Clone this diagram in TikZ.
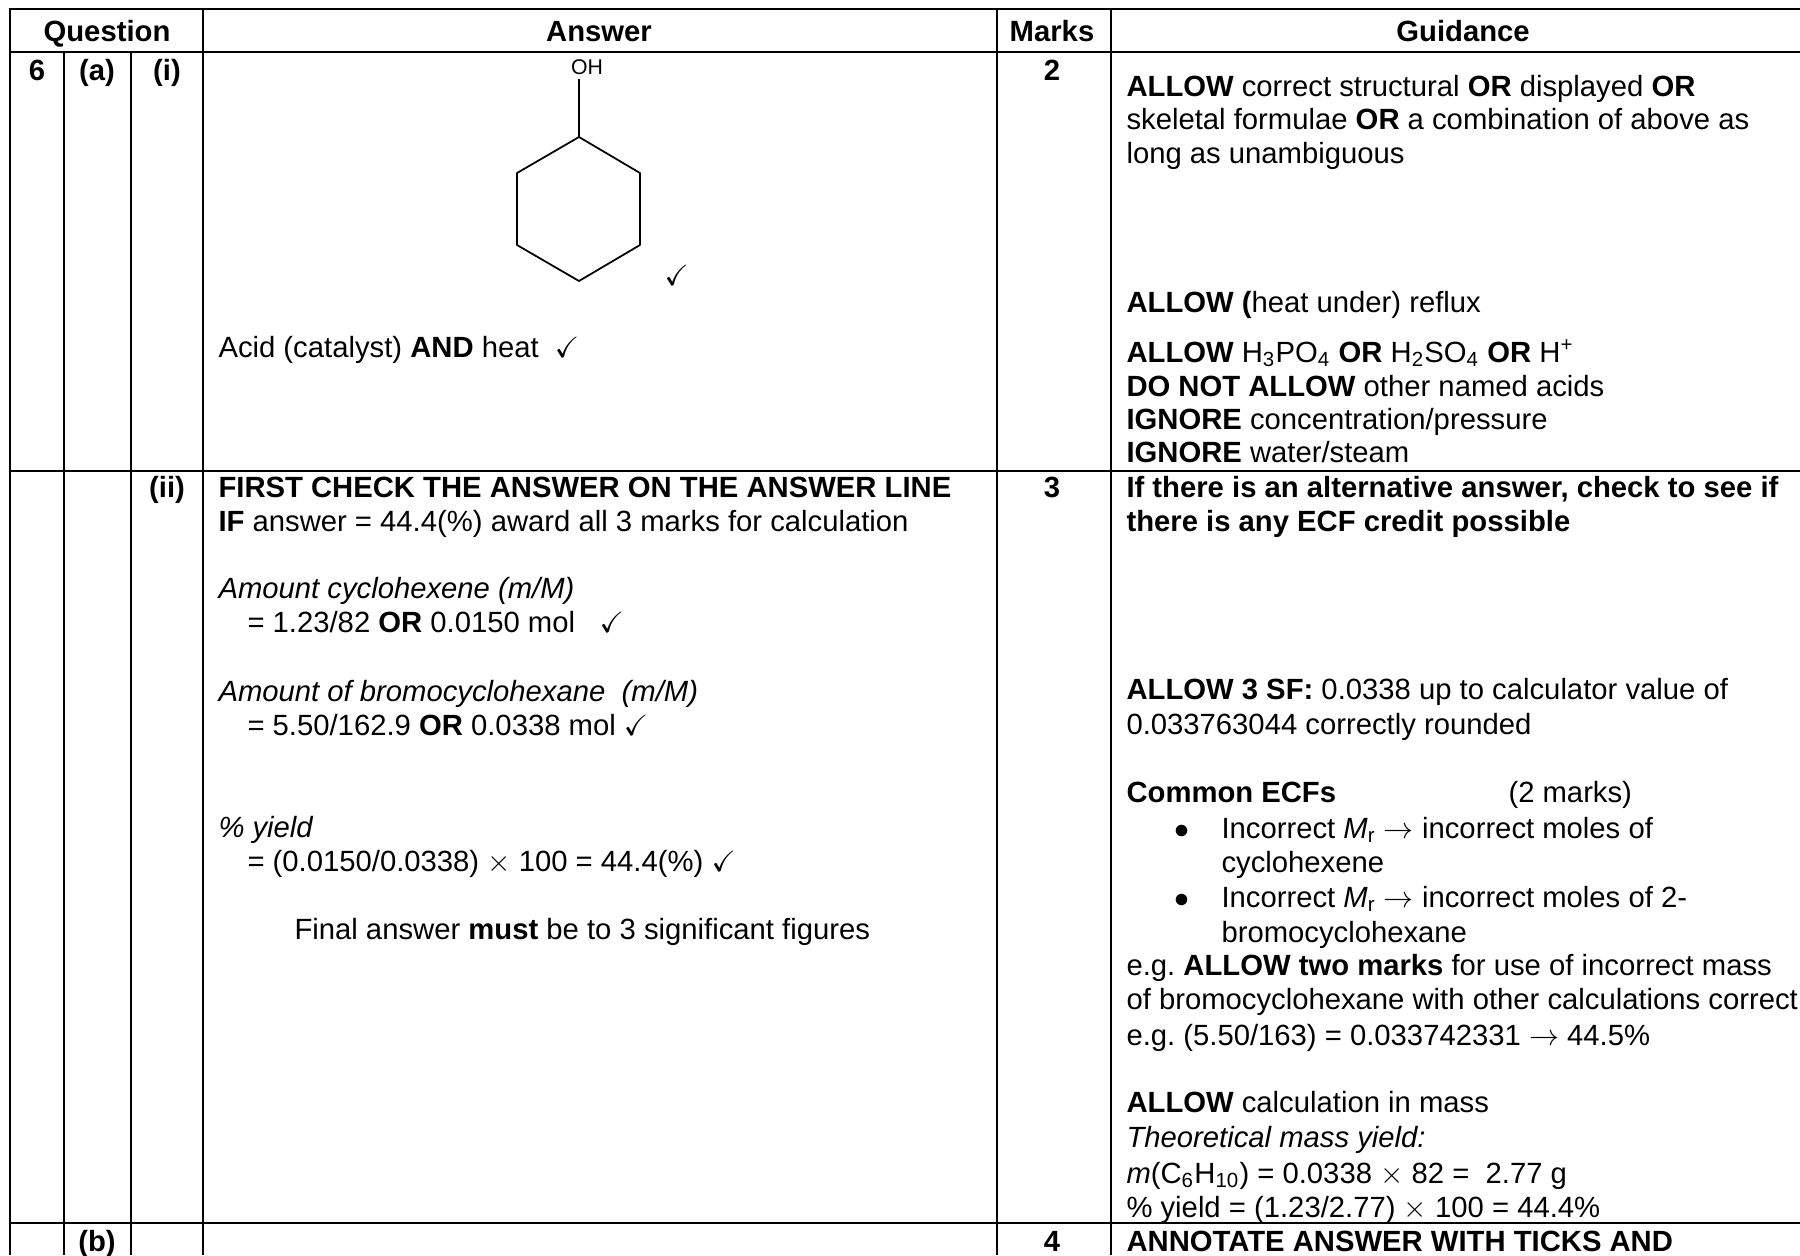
\documentclass[tikz,border=0pt]{standalone}
\usepackage{amsmath,amssymb}
\usepackage{fontspec}
\setmainfont{Liberation Sans}
\usepackage{tikz}
\usetikzlibrary{positioning}
\frenchspacing

\begin{document}
\begin{tikzpicture}[
						x=0.4pt, y=-0.4pt,
						textnode/.style={anchor=base west, inner sep=0pt, font=\fontsize{11.7}{13.5}\selectfont},
						headnode/.style={anchor=base, inner sep=0pt, font=\fontsize{11.7}{13.5}\selectfont\bfseries},
						smallnode/.style={anchor=base, inner sep=0pt, font=\fontsize{8.5}{10}\selectfont},
						rule/.style={line width=1.1pt},
						bond/.style={line width=0.7pt, line join=round},
						]
						\useasboundingbox (0,0) rectangle (1800,1255);
						%Lines
						\draw[rule] (9,9) -- (1800,9);
						\draw[rule] (9,52) -- (1800,52);
						\draw[rule] (9,471) -- (1800,471);
						\draw[rule] (9,1223) -- (1800,1223);
						\draw[rule] (10,9) -- (10,1255);
						\draw[rule] (64,52) -- (64,1255);
						\draw[rule] (131,52) -- (131,1255);
						\draw[rule] (203,9) -- (203,1255);
						\draw[rule] (997,9) -- (997,1255);
						\draw[rule] (1111,9) -- (1111,1255);
						%Header
						\node[headnode] (hquestion) at (107,41)  {Question};
						\node[headnode] (hanswer)   at (599,41)  {Answer};
						\node[headnode] (hmarks)    at (1052,41) {Marks};
						\node[headnode] (hguidance) at (1463,41) {Guidance};
						%Question labels
						\node[headnode] (q6)   at (37,80)   {6};
						\node[headnode] (qa)   at (97,80)   {(a)};
						\node[headnode] (qi)   at (167,80)  {(i)};
						\node[headnode] (qii)  at (167,497) {(ii)};
						\node[headnode] (qb)   at (97,1251) {(b)};
						\node[headnode] (m2)   at (1052,80)   {2};
						\node[headnode] (m3)   at (1052,497)  {3};
						\node[headnode] (m4)   at (1052,1251) {4};
						%Molecule
						\node[smallnode] (oh) at (587,74) {OH};
						\coordinate (c1) at (579,137);
						\coordinate (c2) at (640,173);
						\coordinate (c3) at (640,245);
						\coordinate (c4) at (579,281);
						\coordinate (c5) at (517,245);
						\coordinate (c6) at (517,173);
						\draw[bond] (c1) -- (c2) -- (c3) -- (c4) -- (c5) -- (c6) -- cycle;
						\draw[bond] (579,79) -- (c1);
						\node[textnode] (tick1) at (664,285) {$\checkmark$};
						%Answer text
						\node[textnode] (a1)  at (218,357) {Acid (catalyst) \textbf{AND} heat \ $\checkmark$};
						\node[textnode] (a2)  at (218,497) {\textbf{FIRST CHECK THE ANSWER ON THE ANSWER LINE}};
						\node[textnode] (a3)  at (218,531) {\textbf{IF} answer = 44.4(\%) award all 3 marks for calculation};
						\node[textnode] (a4)  at (218,598) {\textit{Amount cyclohexene (m/M)}};
						\node[textnode] (a5)  at (247,632) {= 1.23/82 \textbf{OR} 0.0150 mol \ \ $\checkmark$};
						\node[textnode] (a6)  at (218,701) {\textit{Amount of bromocyclohexane \ (m/M)}};
						\node[textnode] (a7)  at (247,735) {= 5.50/162.9 \textbf{OR} 0.0338 mol $\checkmark$};
						\node[textnode] (a8)  at (218,837) {\textit{\% yield}};
						\node[textnode] (a9)  at (247,871) {= (0.0150/0.0338) $\times$ 100 = 44.4(\%) $\checkmark$};
						\node[textnode] (a10) at (294,939) {Final answer \textbf{must} be to 3 significant figures};
						%Guidance text
						\node[textnode] (g1)  at (1126,96)  {\textbf{ALLOW} correct structural \textbf{OR} displayed \textbf{OR}};
						\node[textnode] (g2)  at (1126,129) {skeletal formulae \textbf{OR} a combination of above as};
						\node[textnode] (g3)  at (1126,163) {long as unambiguous};
						\node[textnode] (g4)  at (1126,312) {\textbf{ALLOW (}heat under) reflux};
						\node[textnode] (g5)  at (1126,362) {\textbf{ALLOW} H\textsubscript{3}PO\textsubscript{4} \textbf{OR} H\textsubscript{2}SO\textsubscript{4} \textbf{OR} H\textsuperscript{+}};
						\node[textnode] (g6)  at (1126,396) {\textbf{DO NOT ALLOW} other named acids};
						\node[textnode] (g7)  at (1126,429) {\textbf{IGNORE} concentration/pressure};
						\node[textnode] (g8)  at (1126,462) {\textbf{IGNORE} water/steam};
						\node[textnode] (g9)  at (1126,497) {\textbf{If there is an alternative answer, check to see if}};
						\node[textnode] (g10) at (1126,531) {\textbf{there is any ECF credit possible}};
						\node[textnode] (g11) at (1126,699) {\textbf{ALLOW 3 SF:} 0.0338 up to calculator value of};
						\node[textnode] (g12) at (1126,734) {0.033763044 correctly rounded};
						\node[textnode] (g13) at (1126,802) {\textbf{Common ECFs}};
						\node[textnode] (g14) at (1508,802) {(2 marks)};
						\node[textnode] (b1)  at (1174,838) {$\bullet$};
						\node[textnode] (g15) at (1221,838) {Incorrect \textit{M}\textsubscript{r} $\rightarrow$ incorrect moles of};
						\node[textnode] (g16) at (1221,872) {cyclohexene};
						\node[textnode] (b2)  at (1174,907) {$\bullet$};
						\node[textnode] (g17) at (1221,907) {Incorrect \textit{M}\textsubscript{r} $\rightarrow$ incorrect moles of 2-};
						\node[textnode] (g18) at (1221,942) {bromocyclohexane};
						\node[textnode] (g19) at (1126,975)  {e.g. \textbf{ALLOW two marks} for use of incorrect mass};
						\node[textnode] (g20) at (1126,1009) {of bromocyclohexane with other calculations correct};
						\node[textnode] (g21) at (1126,1045) {e.g. (5.50/163) = 0.033742331 $\rightarrow$ 44.5\%};
						\node[textnode] (g22) at (1126,1112) {\textbf{ALLOW} calculation in mass};
						\node[textnode] (g23) at (1126,1147) {\textit{Theoretical mass yield:}};
						\node[textnode] (g24) at (1126,1183) {\textit{m}(C\textsubscript{6}H\textsubscript{10}) = 0.0338 $\times$ 82 = \ 2.77 g};
						\node[textnode] (g25) at (1126,1217) {\% yield = (1.23/2.77) $\times$ 100 = 44.4\%};
						\node[textnode] (g26) at (1126,1251) {\textbf{ANNOTATE ANSWER WITH TICKS AND}};
					\end{tikzpicture}
\end{document}
